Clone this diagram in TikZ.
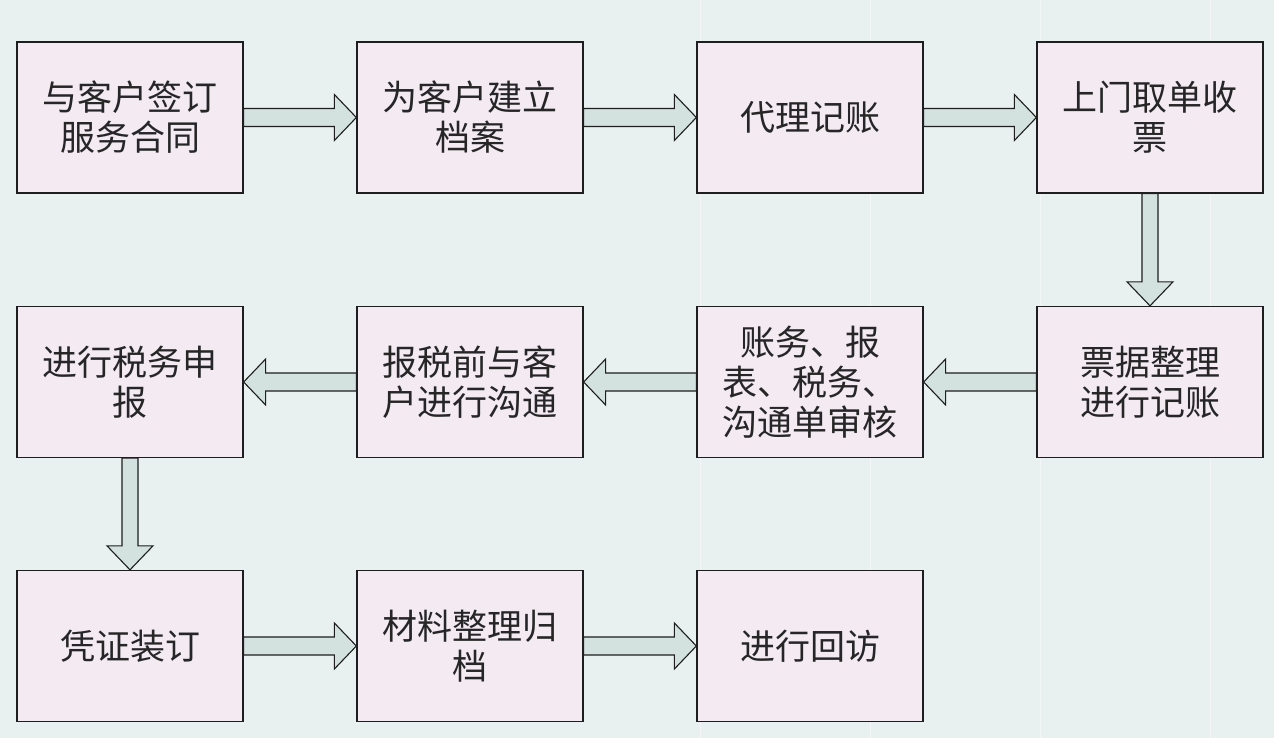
\documentclass[tikz,border=0pt]{standalone}
\usepackage{fontspec}
\newfontfamily\cjk{Noto Sans CJK SC}
\usetikzlibrary{calc}
\definecolor{bgc}{HTML}{E9F0F0}
\definecolor{boxc}{HTML}{F3EAF2}
\definecolor{arrc}{HTML}{D3E2DF}
\definecolor{linec}{HTML}{1E1E1E}
\tikzset{
  stepbox/.style={draw=linec, line width=1.3pt, fill=boxc, minimum width=226pt, minimum height=151pt,
    inner sep=0pt, align=center, font=\cjk\fontsize{35}{40}\selectfont, text=black!85},
  arr/.style={draw=linec, line width=1.1pt, fill=arrc, line join=miter}
}
\newcommand{\rarrow}[2]{%
  \draw[arr] let \p1=(#1.east), \p2=(#2.west) in
    (\x1,\y1+9pt) -- (\x2-22pt,\y1+9pt) -- (\x2-22pt,\y1+23pt) -- (\x2,\y1) --
    (\x2-22pt,\y1-23pt) -- (\x2-22pt,\y1-9pt) -- (\x1,\y1-9pt) -- cycle;}
\newcommand{\larrow}[2]{%
  \draw[arr] let \p1=(#1.west), \p2=(#2.east) in
    (\x1,\y1+9pt) -- (\x2+22pt,\y1+9pt) -- (\x2+22pt,\y1+23pt) -- (\x2,\y1) --
    (\x2+22pt,\y1-23pt) -- (\x2+22pt,\y1-9pt) -- (\x1,\y1-9pt) -- cycle;}
\newcommand{\darrow}[2]{%
  \draw[arr] let \p1=(#1.south), \p2=(#2.north) in
    (\x1-8pt,\y1) -- (\x1-8pt,\y2+24pt) -- (\x1-23pt,\y2+24pt) -- (\x1,\y2) --
    (\x1+23pt,\y2+24pt) -- (\x1+8pt,\y2+24pt) -- (\x1+8pt,\y1) -- cycle;}
\begin{document}
\begin{tikzpicture}[x=1pt,y=-1pt]
\fill[bgc] (0,0) rectangle (1274,738);
\useasboundingbox (0,0) rectangle (1274,738);
% faint grid
\foreach \gx in {700,870,1040,1210} \draw[white!40!bgc, line width=0.7pt] (\gx,0) -- (\gx,738);
\node[stepbox] (a1) at (130,117.5) {与客户签订\\服务合同};
\node[stepbox] (a2) at (470,117.5) {为客户建立\\档案};
\node[stepbox] (a3) at (810,117.5) {代理记账};
\node[stepbox] (a4) at (1150,117.5) {上门取单收\\票};
\node[stepbox] (b4) at (1150,382) {票据整理\\进行记账};
\node[stepbox] (b3) at (810,382) {账务、报\\表、税务、\\沟通单审核};
\node[stepbox] (b2) at (470,382) {报税前与客\\户进行沟通};
\node[stepbox] (b1) at (130,382) {进行税务申\\报};
\node[stepbox] (c1) at (130,646) {凭证装订};
\node[stepbox] (c2) at (470,646) {材料整理归\\档};
\node[stepbox] (c3) at (810,646) {进行回访};
\rarrow{a1}{a2}
\rarrow{a2}{a3}
\rarrow{a3}{a4}
\darrow{a4}{b4}
\larrow{b4}{b3}
\larrow{b3}{b2}
\larrow{b2}{b1}
\darrow{b1}{c1}
\rarrow{c1}{c2}
\rarrow{c2}{c3}
\end{tikzpicture}
\end{document}
